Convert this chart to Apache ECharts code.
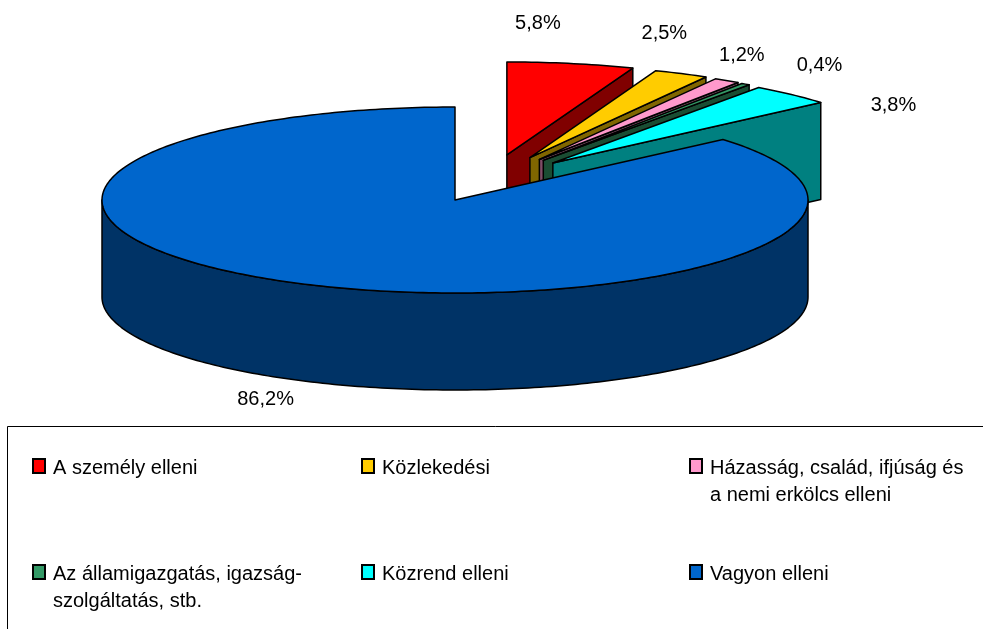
<!DOCTYPE html>
<html>
<head>
<meta charset="utf-8">
<script src="https://cdn.jsdelivr.net/npm/echarts@6/dist/echarts.min.js"></script>
<style>
html, body { margin: 0; padding: 0; background: #fff; }
#main { width: 983px; height: 629px; }
</style>
</head>
<body>
<div id="main"></div>
<script>
// categories and values
var names = ['A személy elleni', 'Közlekedési', 'Házasság, család, ifjúság és\na nemi erkölcs elleni',
	'Az államigazgatás, igazság-\nszolgáltatás, stb.', 'Közrend elleni', 'Vagyon elleni'];
var values = [5.8, 2.5, 1.2, 0.4, 3.8, 86.2];
var labels = ['5,8%', '2,5%', '1,2%', '0,4%', '3,8%', '86,2%'];

// styles
var topColors = ['#FF0000', '#FFCC00', '#FF99CC', '#339966', '#00FFFF', '#0066CC'];
var sideColors = ['#800000', '#806600', '#804C66', '#1A4D33', '#008080', '#003366'];
var exploded = [true, true, true, true, true, false];
var labelShift = [[-33, -40], [-17, -40], [15, -25], [74, -19], [102, 11], [-42, 18]];

var cx0 = 455, cy0 = 200, rx = 353, ry = 93, depth = 97;
var font = '20px "Liberation Sans", Arial, sans-serif';

function rad(a) { return a * Math.PI / 180; }
function pt(cx, cy, a, dy) {
	return [cx + rx * Math.sin(rad(a)), cy - ry * Math.cos(rad(a)) + (dy || 0)];
}
function arc(cx, cy, from, to, dy) {
	var pts = [];
	var n = Math.max(2, Math.ceil(Math.abs(to - from)));
	for (var k = 0; k <= n; k++) {
		pts.push(pt(cx, cy, from + (to - from) * k / n, dy));
	}
	return pts;
}
function poly(points, fill, z2) {
	return {
		type: 'polygon',
		shape: { points: points },
		style: { fill: fill, stroke: '#000', lineWidth: 1.5, lineJoin: 'round' },
		z2: z2
	};
}

var total = 0;
for (var t = 0; t < values.length; t++) total += values[t];

function renderSlice(i) {
	return function(params, api) {
		var v = api.value(0);
		var before = 0;
		for (var j = 0; j < i; j++) before += values[j];
		var a0 = before / total * 360;
		var a1 = (before + v) / total * 360;
		var mid = (a0 + a1) / 2;
		var cx = cx0, cy = cy0;
		if (exploded[i]) {
			cx += 35 + 93 * Math.sin(rad(mid));
			cy -= 12.6 + 33 * Math.cos(rad(mid));
		}
		var children = [];
		var base = i * 10;
		// radial wall at the end angle
		if (a1 > 0 && a1 < 180) {
			var r1 = pt(cx, cy, a1);
			children.push(poly([[cx, cy], r1, [r1[0], r1[1] + depth], [cx, cy + depth]], sideColors[i], base));
		}
		// radial wall at the start angle
		if (a0 > 180 && a0 < 360) {
			var r0 = pt(cx, cy, a0);
			children.push(poly([[cx, cy], r0, [r0[0], r0[1] + depth], [cx, cy + depth]], sideColors[i], base));
		}
		// outer curved wall (front half only)
		var f0 = Math.max(a0, 90), f1 = Math.min(a1, 270);
		if (f1 > f0) {
			var top = arc(cx, cy, f0, f1, 0);
			var bot = arc(cx, cy, f1, f0, depth);
			children.push(poly(top.concat(bot), sideColors[i], base + 1));
		}
		// top face
		children.push(poly([[cx, cy]].concat(arc(cx, cy, a0, a1, 0)), topColors[i], base + 2));
		// label
		var lp = pt(cx, cy, mid, exploded[i] ? 0 : depth);
		children.push({
			type: 'text',
			style: {
				text: labels[i],
				x: lp[0] + labelShift[i][0],
				y: lp[1] + labelShift[i][1],
				fill: '#000',
				font: font,
				align: 'center',
				verticalAlign: 'middle'
			},
			z2: 200
		});
		return { type: 'group', children: children };
	};
}

var series = [];
for (var s = 0; s < values.length; s++) {
	series.push({
		type: 'custom',
		name: names[s],
		coordinateSystem: 'none',
		silent: true,
		data: [[values[s]]],
		renderItem: renderSlice(s)
	});
}

// legend drawn as graphic
var legendCols = [33, 362, 690];
var legendRows = [459, 565];
var graphics = [{
	type: 'rect',
	shape: { x: 7.5, y: 426.5, width: 990, height: 230 },
	style: { fill: 'none', stroke: '#000', lineWidth: 1 },
	silent: true
}];
for (var g = 0; g < names.length; g++) {
	var gx = legendCols[g % 3], gy = legendRows[Math.floor(g / 3)];
	graphics.push({
		type: 'rect',
		shape: { x: gx, y: gy, width: 12, height: 14 },
		style: { fill: topColors[g], stroke: '#000', lineWidth: 2 }
	});
	graphics.push({
		type: 'text',
		style: {
			text: names[g],
			x: gx + 20,
			y: gy - 4,
			font: font,
			lineHeight: 27,
			verticalAlign: 'top',
			fill: '#000'
		}
	});
}

var myChart = echarts.init(document.getElementById('main'));
var option = {
	backgroundColor: '#fff',
	animation: false,
	series: series,
	graphic: graphics
};
myChart.setOption(option);
</script>
</body>
</html>
